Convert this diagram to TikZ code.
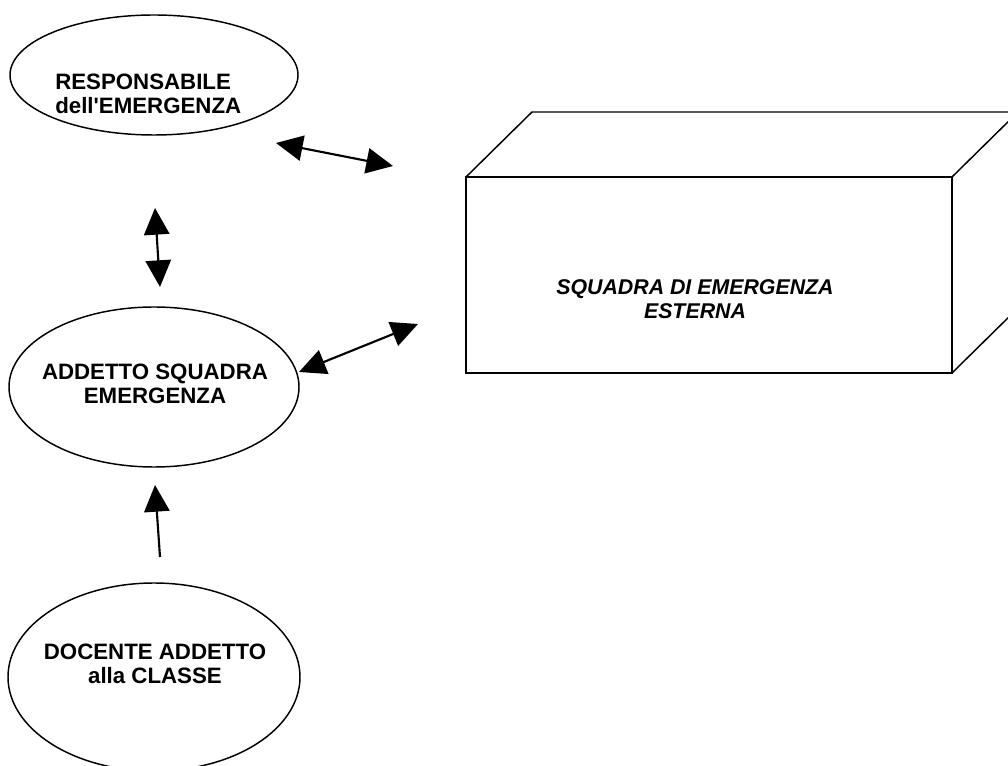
\documentclass[tikz,border=0pt]{standalone}
\usepackage{fontspec}
\setmainfont{Liberation Sans}
\usetikzlibrary{shapes.geometric, arrows.meta}
\tikzset{>={Triangle[length=20pt,width=19pt]}}

\begin{document}
\begin{tikzpicture}[x=0.75pt, y=-0.75pt,
  blob/.style={draw, ellipse, line width=1.1pt, inner sep=0pt, outer sep=0pt},
  caption/.style={font=\fontsize{16.7}{18}\selectfont\bfseries, align=center, inner sep=0pt},
  link/.style={line width=1.6pt}]
\useasboundingbox (0,0) rectangle (1008,766);
\clip (0,0) rectangle (1008,766);

% the three people
\node[blob, minimum width=216pt, minimum height=90pt] (resp) at (154,75) {};
\node[caption, align=left, anchor=west] (resptxt) at (55,94) {RESPONSABILE\\dell\textquotesingle EMERGENZA};

\node[blob, minimum width=217.5pt, minimum height=120pt] (addetto) at (154,387) {};
\node[caption] (addettotxt) at (155,384) {ADDETTO SQUADRA\\EMERGENZA};

\node[blob, minimum width=219pt, minimum height=141pt] (docente) at (154,677) {};
\node[caption] (docentetxt) at (155,664) {DOCENTE ADDETTO\\alla CLASSE};

% the external team, as a box
\node[draw, line width=1.1pt, outer sep=0pt, minimum width=364.5pt, minimum height=147pt] (squadra) at (709,275) {};
\draw[line width=1.1pt, line join=round] (squadra.north west) -- ++(66,-65) -- ++(486,0) -- ++(0,196) -- (squadra.south east);
\draw[line width=1.1pt] (squadra.north east) -- ++(66,-65);
\node[caption, font=\fontsize{16}{18}\selectfont\bfseries\itshape] (squadratxt) at (695,299) {SQUADRA DI EMERGENZA\\ESTERNA};

% arrow ends
\coordinate (r1) at (276,143);
\coordinate (s1) at (393,166);
\coordinate (r2) at (155,208);
\coordinate (a1) at (160,287);
\coordinate (a2) at (299,372);
\coordinate (s2) at (418,324);
\coordinate (a3) at (155,485);
\coordinate (d1) at (160,557);

\draw[link, <->] (r1) -- (s1);
\draw[link, <->] (r2) -- (a1);
\draw[link, <->] (a2) -- (s2);
\draw[link, ->] (d1) -- (a3);

\end{tikzpicture}
\end{document}
